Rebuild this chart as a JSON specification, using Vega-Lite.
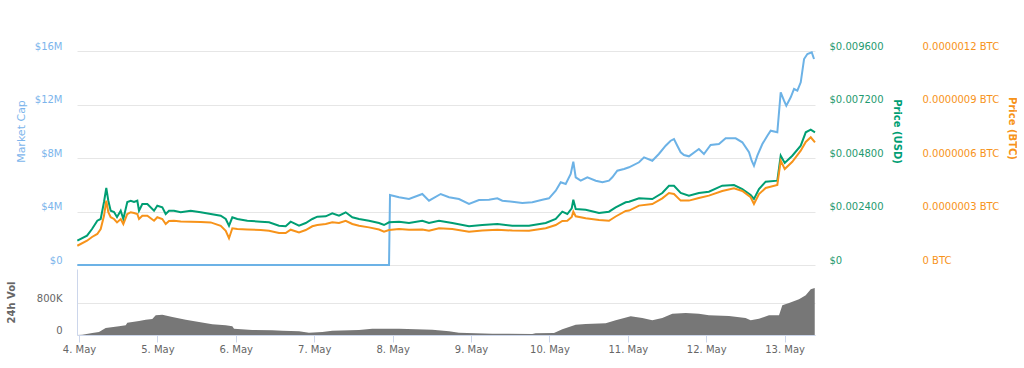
{
  "$schema": "https://vega.github.io/schema/vega-lite/v6.json",
  "background": "white",
  "padding": {"left": 6, "top": 41, "right": 0, "bottom": 5},
  "config": {"view": {"stroke": null}, "font": "DejaVu Sans", "axis": {"labelFont": "DejaVu Sans", "titleFont": "DejaVu Sans"}},
  "spacing": 0,
  "datasets": {
    "price": [
      {"t": "2018-05-03T23:29", "usd": 0.00109, "btc": 1.08e-7},
      {"t": "2018-05-04T02:27", "usd": 0.001314, "btc": 1.36e-7},
      {"t": "2018-05-04T03:59", "usd": 0.001615, "btc": 1.57e-7},
      {"t": "2018-05-04T05:36", "usd": 0.001987, "btc": 1.74e-7},
      {"t": "2018-05-04T06:38", "usd": 0.002064, "btc": 2.02e-7},
      {"t": "2018-05-04T07:39", "usd": 0.002826, "btc": 2.76e-7},
      {"t": "2018-05-04T08:21", "usd": 0.003454, "btc": 3.61e-7},
      {"t": "2018-05-04T08:58", "usd": 0.002884, "btc": 2.96e-7},
      {"t": "2018-05-04T09:42", "usd": 0.002436, "btc": 2.68e-7},
      {"t": "2018-05-04T10:43", "usd": 0.002378, "btc": 2.58e-7},
      {"t": "2018-05-04T11:38", "usd": 0.002153, "btc": 2.39e-7},
      {"t": "2018-05-04T12:46", "usd": 0.002436, "btc": 2.58e-7},
      {"t": "2018-05-04T13:34", "usd": 0.002064, "btc": 2.30e-7},
      {"t": "2018-05-04T14:47", "usd": 0.002826, "btc": 2.86e-7},
      {"t": "2018-05-04T15:50", "usd": 0.002884, "btc": 2.96e-7},
      {"t": "2018-05-04T16:50", "usd": 0.002826, "btc": 2.92e-7},
      {"t": "2018-05-04T17:51", "usd": 0.002884, "btc": 2.86e-7},
      {"t": "2018-05-04T18:22", "usd": 0.002436, "btc": 2.58e-7},
      {"t": "2018-05-04T19:23", "usd": 0.002736, "btc": 2.76e-7},
      {"t": "2018-05-04T20:55", "usd": 0.002736, "btc": 2.76e-7},
      {"t": "2018-05-04T22:58", "usd": 0.002436, "btc": 2.48e-7},
      {"t": "2018-05-04T23:58", "usd": 0.00266, "btc": 2.68e-7},
      {"t": "2018-05-05T01:30", "usd": 0.002588, "btc": 2.58e-7},
      {"t": "2018-05-05T02:32", "usd": 0.002288, "btc": 2.30e-7},
      {"t": "2018-05-05T03:33", "usd": 0.002436, "btc": 2.47e-7},
      {"t": "2018-05-05T05:05", "usd": 0.002436, "btc": 2.48e-7},
      {"t": "2018-05-05T07:08", "usd": 0.002364, "btc": 2.44e-7},
      {"t": "2018-05-05T10:11", "usd": 0.002436, "btc": 2.43e-7},
      {"t": "2018-05-05T13:15", "usd": 0.002364, "btc": 2.41e-7},
      {"t": "2018-05-05T16:19", "usd": 0.002288, "btc": 2.39e-7},
      {"t": "2018-05-05T19:23", "usd": 0.002212, "btc": 2.20e-7},
      {"t": "2018-05-05T20:55", "usd": 0.002064, "btc": 1.92e-7},
      {"t": "2018-05-05T21:55", "usd": 0.001763, "btc": 1.50e-7},
      {"t": "2018-05-05T22:56", "usd": 0.00214, "btc": 2.06e-7},
      {"t": "2018-05-06T00:28", "usd": 0.002064, "btc": 2.02e-7},
      {"t": "2018-05-06T03:31", "usd": 0.001987, "btc": 1.99e-7},
      {"t": "2018-05-06T07:37", "usd": 0.001942, "btc": 1.96e-7},
      {"t": "2018-05-06T10:10", "usd": 0.001916, "btc": 1.92e-7},
      {"t": "2018-05-06T13:13", "usd": 0.001763, "btc": 1.79e-7},
      {"t": "2018-05-06T15:16", "usd": 0.001736, "btc": 1.79e-7},
      {"t": "2018-05-06T16:48", "usd": 0.001942, "btc": 1.98e-7},
      {"t": "2018-05-06T19:21", "usd": 0.001763, "btc": 1.83e-7},
      {"t": "2018-05-06T21:24", "usd": 0.001884, "btc": 1.96e-7},
      {"t": "2018-05-06T23:25", "usd": 0.002064, "btc": 2.17e-7},
      {"t": "2018-05-07T00:57", "usd": 0.002167, "btc": 2.24e-7},
      {"t": "2018-05-07T03:31", "usd": 0.002185, "btc": 2.30e-7},
      {"t": "2018-05-07T05:32", "usd": 0.002319, "btc": 2.39e-7},
      {"t": "2018-05-07T07:35", "usd": 0.002212, "btc": 2.36e-7},
      {"t": "2018-05-07T09:38", "usd": 0.002364, "btc": 2.48e-7},
      {"t": "2018-05-07T11:40", "usd": 0.00214, "btc": 2.30e-7},
      {"t": "2018-05-07T13:43", "usd": 0.002064, "btc": 2.20e-7},
      {"t": "2018-05-07T16:46", "usd": 0.001987, "btc": 2.11e-7},
      {"t": "2018-05-07T19:50", "usd": 0.001884, "btc": 1.99e-7},
      {"t": "2018-05-07T21:22", "usd": 0.001794, "btc": 1.87e-7},
      {"t": "2018-05-07T22:54", "usd": 0.001916, "btc": 1.96e-7},
      {"t": "2018-05-08T01:58", "usd": 0.001942, "btc": 2.02e-7},
      {"t": "2018-05-08T05:01", "usd": 0.001884, "btc": 1.98e-7},
      {"t": "2018-05-08T09:05", "usd": 0.001987, "btc": 1.99e-7},
      {"t": "2018-05-08T11:08", "usd": 0.001884, "btc": 1.92e-7},
      {"t": "2018-05-08T14:12", "usd": 0.001987, "btc": 2.06e-7},
      {"t": "2018-05-08T18:16", "usd": 0.001884, "btc": 2.02e-7},
      {"t": "2018-05-08T23:23", "usd": 0.001736, "btc": 1.87e-7},
      {"t": "2018-05-09T03:27", "usd": 0.001794, "btc": 1.93e-7},
      {"t": "2018-05-09T08:03", "usd": 0.001839, "btc": 1.98e-7},
      {"t": "2018-05-09T12:38", "usd": 0.001763, "btc": 1.93e-7},
      {"t": "2018-05-09T17:45", "usd": 0.001763, "btc": 1.92e-7},
      {"t": "2018-05-09T22:52", "usd": 0.001884, "btc": 2.06e-7},
      {"t": "2018-05-10T01:56", "usd": 0.002064, "btc": 2.24e-7},
      {"t": "2018-05-10T03:57", "usd": 0.002391, "btc": 2.47e-7},
      {"t": "2018-05-10T05:29", "usd": 0.002288, "btc": 2.48e-7},
      {"t": "2018-05-10T06:50", "usd": 0.002544, "btc": 2.69e-7},
      {"t": "2018-05-10T07:19", "usd": 0.002929, "btc": 2.99e-7},
      {"t": "2018-05-10T08:03", "usd": 0.002512, "btc": 2.73e-7},
      {"t": "2018-05-10T11:07", "usd": 0.002481, "btc": 2.62e-7},
      {"t": "2018-05-10T15:11", "usd": 0.002333, "btc": 2.52e-7},
      {"t": "2018-05-10T18:14", "usd": 0.002391, "btc": 2.48e-7},
      {"t": "2018-05-10T20:17", "usd": 0.002588, "btc": 2.72e-7},
      {"t": "2018-05-10T23:21", "usd": 0.002813, "btc": 3.03e-7},
      {"t": "2018-05-11T00:22", "usd": 0.00284, "btc": 3.05e-7},
      {"t": "2018-05-11T03:26", "usd": 0.002992, "btc": 3.33e-7},
      {"t": "2018-05-11T07:30", "usd": 0.002961, "btc": 3.42e-7},
      {"t": "2018-05-11T10:33", "usd": 0.00323, "btc": 3.74e-7},
      {"t": "2018-05-11T12:36", "usd": 0.003557, "btc": 4.04e-7},
      {"t": "2018-05-11T14:08", "usd": 0.003557, "btc": 3.98e-7},
      {"t": "2018-05-11T16:11", "usd": 0.00323, "btc": 3.61e-7},
      {"t": "2018-05-11T18:42", "usd": 0.003109, "btc": 3.61e-7},
      {"t": "2018-05-11T21:45", "usd": 0.00323, "btc": 3.76e-7},
      {"t": "2018-05-12T00:49", "usd": 0.003288, "btc": 3.89e-7},
      {"t": "2018-05-12T04:54", "usd": 0.003557, "btc": 4.15e-7},
      {"t": "2018-05-12T08:30", "usd": 0.003589, "btc": 4.30e-7},
      {"t": "2018-05-12T11:03", "usd": 0.003409, "btc": 4.15e-7},
      {"t": "2018-05-12T13:36", "usd": 0.00314, "btc": 3.80e-7},
      {"t": "2018-05-12T14:37", "usd": 0.002961, "btc": 3.42e-7},
      {"t": "2018-05-12T16:09", "usd": 0.003409, "btc": 3.98e-7},
      {"t": "2018-05-12T18:12", "usd": 0.003737, "btc": 4.32e-7},
      {"t": "2018-05-12T21:46", "usd": 0.003782, "btc": 4.49e-7},
      {"t": "2018-05-12T22:48", "usd": 0.004903, "btc": 5.85e-7},
      {"t": "2018-05-13T00:02", "usd": 0.004576, "btc": 5.38e-7},
      {"t": "2018-05-13T02:21", "usd": 0.004903, "btc": 5.79e-7},
      {"t": "2018-05-13T04:56", "usd": 0.005352, "btc": 6.41e-7},
      {"t": "2018-05-13T06:28", "usd": 0.005953, "btc": 6.90e-7},
      {"t": "2018-05-13T08:00", "usd": 0.00607, "btc": 7.16e-7},
      {"t": "2018-05-13T09:18", "usd": 0.005953, "btc": 6.88e-7}
    ],
    "mcap": [
      {"t": "2018-05-03T23:29", "mcap": 0},
      {"t": "2018-05-07T22:54", "mcap": 0},
      {"t": "2018-05-07T23:12", "mcap": 5234000},
      {"t": "2018-05-08T01:58", "mcap": 5062000},
      {"t": "2018-05-08T05:01", "mcap": 4935000},
      {"t": "2018-05-08T09:05", "mcap": 5308000},
      {"t": "2018-05-08T11:08", "mcap": 4807000},
      {"t": "2018-05-08T14:43", "mcap": 5308000},
      {"t": "2018-05-08T17:16", "mcap": 5062000},
      {"t": "2018-05-08T20:19", "mcap": 4935000},
      {"t": "2018-05-08T23:23", "mcap": 4561000},
      {"t": "2018-05-09T02:26", "mcap": 4860000},
      {"t": "2018-05-09T05:30", "mcap": 4882000},
      {"t": "2018-05-09T08:03", "mcap": 4987000},
      {"t": "2018-05-09T09:35", "mcap": 4807000},
      {"t": "2018-05-09T12:38", "mcap": 4733000},
      {"t": "2018-05-09T15:42", "mcap": 4635000},
      {"t": "2018-05-09T18:46", "mcap": 4688000},
      {"t": "2018-05-09T21:50", "mcap": 4882000},
      {"t": "2018-05-09T23:52", "mcap": 4987000},
      {"t": "2018-05-10T01:56", "mcap": 5555000},
      {"t": "2018-05-10T03:28", "mcap": 6183000},
      {"t": "2018-05-10T04:59", "mcap": 6056000},
      {"t": "2018-05-10T06:31", "mcap": 6804000},
      {"t": "2018-05-10T07:19", "mcap": 7723000},
      {"t": "2018-05-10T08:03", "mcap": 6557000},
      {"t": "2018-05-10T09:35", "mcap": 6303000},
      {"t": "2018-05-10T11:37", "mcap": 6557000},
      {"t": "2018-05-10T14:11", "mcap": 6303000},
      {"t": "2018-05-10T16:13", "mcap": 6183000},
      {"t": "2018-05-10T18:14", "mcap": 6303000},
      {"t": "2018-05-10T19:15", "mcap": 6557000},
      {"t": "2018-05-10T20:47", "mcap": 7050000},
      {"t": "2018-05-10T22:50", "mcap": 7178000},
      {"t": "2018-05-11T00:22", "mcap": 7305000},
      {"t": "2018-05-11T03:26", "mcap": 7679000},
      {"t": "2018-05-11T04:58", "mcap": 8052000},
      {"t": "2018-05-11T07:30", "mcap": 7798000},
      {"t": "2018-05-11T09:30", "mcap": 8299000},
      {"t": "2018-05-11T11:35", "mcap": 8920000},
      {"t": "2018-05-11T13:07", "mcap": 9293000},
      {"t": "2018-05-11T14:08", "mcap": 9421000},
      {"t": "2018-05-11T15:09", "mcap": 8920000},
      {"t": "2018-05-11T16:11", "mcap": 8426000},
      {"t": "2018-05-11T17:12", "mcap": 8224000},
      {"t": "2018-05-11T18:42", "mcap": 8127000},
      {"t": "2018-05-11T21:45", "mcap": 8673000},
      {"t": "2018-05-11T23:18", "mcap": 8299000},
      {"t": "2018-05-12T01:21", "mcap": 8972000},
      {"t": "2018-05-12T03:54", "mcap": 9047000},
      {"t": "2018-05-12T05:57", "mcap": 9473000},
      {"t": "2018-05-12T09:01", "mcap": 9473000},
      {"t": "2018-05-12T11:03", "mcap": 9174000},
      {"t": "2018-05-12T13:06", "mcap": 8426000},
      {"t": "2018-05-12T13:55", "mcap": 7798000},
      {"t": "2018-05-12T14:37", "mcap": 7424000},
      {"t": "2018-05-12T15:39", "mcap": 8172000},
      {"t": "2018-05-12T17:11", "mcap": 9047000},
      {"t": "2018-05-12T18:43", "mcap": 9667000},
      {"t": "2018-05-12T19:44", "mcap": 10041000},
      {"t": "2018-05-12T21:46", "mcap": 9922000},
      {"t": "2018-05-12T22:48", "mcap": 12912000},
      {"t": "2018-05-12T23:49", "mcap": 12284000},
      {"t": "2018-05-13T00:31", "mcap": 11910000},
      {"t": "2018-05-13T01:52", "mcap": 12538000},
      {"t": "2018-05-13T02:53", "mcap": 13159000},
      {"t": "2018-05-13T03:54", "mcap": 13032000},
      {"t": "2018-05-13T04:56", "mcap": 13660000},
      {"t": "2018-05-13T05:57", "mcap": 15402000},
      {"t": "2018-05-13T06:58", "mcap": 15776000},
      {"t": "2018-05-13T08:18", "mcap": 15903000},
      {"t": "2018-05-13T09:00", "mcap": 15402000}
    ],
    "vol": [
      {"t": "2018-05-03T23:30", "vol": 0},
      {"t": "2018-05-04T01:00", "vol": 7500},
      {"t": "2018-05-04T04:04", "vol": 50000},
      {"t": "2018-05-04T06:07", "vol": 75000},
      {"t": "2018-05-04T08:10", "vol": 175000},
      {"t": "2018-05-04T12:15", "vol": 217000},
      {"t": "2018-05-04T14:18", "vol": 242000},
      {"t": "2018-05-04T14:47", "vol": 307000},
      {"t": "2018-05-04T18:22", "vol": 350000},
      {"t": "2018-05-04T20:25", "vol": 382000},
      {"t": "2018-05-04T22:26", "vol": 400000},
      {"t": "2018-05-04T23:29", "vol": 492000},
      {"t": "2018-05-05T01:30", "vol": 507000},
      {"t": "2018-05-05T04:34", "vol": 450000},
      {"t": "2018-05-05T08:40", "vol": 382000},
      {"t": "2018-05-05T12:44", "vol": 325000},
      {"t": "2018-05-05T16:48", "vol": 267000},
      {"t": "2018-05-05T20:54", "vol": 242000},
      {"t": "2018-05-05T22:56", "vol": 217000},
      {"t": "2018-05-05T23:27", "vol": 157000},
      {"t": "2018-05-06T05:02", "vol": 125000},
      {"t": "2018-05-06T11:09", "vol": 117000},
      {"t": "2018-05-06T14:14", "vol": 107000},
      {"t": "2018-05-06T19:21", "vol": 92000},
      {"t": "2018-05-06T22:24", "vol": 57000},
      {"t": "2018-05-07T02:29", "vol": 75000},
      {"t": "2018-05-07T05:32", "vol": 107000},
      {"t": "2018-05-07T13:43", "vol": 125000},
      {"t": "2018-05-07T17:47", "vol": 157000},
      {"t": "2018-05-08T01:58", "vol": 157000},
      {"t": "2018-05-08T12:10", "vol": 132000},
      {"t": "2018-05-08T17:16", "vol": 92000},
      {"t": "2018-05-08T20:19", "vol": 57000},
      {"t": "2018-05-09T06:31", "vol": 32000},
      {"t": "2018-05-09T18:46", "vol": 25000},
      {"t": "2018-05-09T19:47", "vol": 42000},
      {"t": "2018-05-10T01:24", "vol": 50000},
      {"t": "2018-05-10T03:57", "vol": 142000},
      {"t": "2018-05-10T08:03", "vol": 257000},
      {"t": "2018-05-10T11:07", "vol": 275000},
      {"t": "2018-05-10T17:14", "vol": 292000},
      {"t": "2018-05-10T20:17", "vol": 367000},
      {"t": "2018-05-11T00:53", "vol": 467000},
      {"t": "2018-05-11T04:26", "vol": 425000},
      {"t": "2018-05-11T07:30", "vol": 367000},
      {"t": "2018-05-11T10:33", "vol": 425000},
      {"t": "2018-05-11T13:37", "vol": 532000},
      {"t": "2018-05-11T17:42", "vol": 550000},
      {"t": "2018-05-11T21:45", "vol": 532000},
      {"t": "2018-05-12T00:49", "vol": 492000},
      {"t": "2018-05-12T06:58", "vol": 475000},
      {"t": "2018-05-12T12:02", "vol": 425000},
      {"t": "2018-05-12T13:36", "vol": 367000},
      {"t": "2018-05-12T16:09", "vol": 407000},
      {"t": "2018-05-12T19:13", "vol": 492000},
      {"t": "2018-05-12T22:17", "vol": 492000},
      {"t": "2018-05-12T23:18", "vol": 742000},
      {"t": "2018-05-13T01:21", "vol": 800000},
      {"t": "2018-05-13T04:24", "vol": 892000},
      {"t": "2018-05-13T06:28", "vol": 992000},
      {"t": "2018-05-13T08:00", "vol": 1142000},
      {"t": "2018-05-13T09:13", "vol": 1175000}
    ]
  },
  "vconcat": [
    {
      "width": 738,
      "height": 214,
      "layer": [
        {
          "data": {"name": "mcap"},
          "mark": {"type": "line", "color": "#6cb2e6", "strokeWidth": 2},
          "encoding": {
            "x": {"field": "t", "type": "temporal", "scale": {"domain": [{"year": 2018, "month": 5, "date": 3, "hours": 23, "minutes": 23}, {"year": 2018, "month": 5, "date": 13, "hours": 9, "minutes": 18}]}, "axis": null},
            "y": {"field": "mcap", "type": "quantitative", "scale": {"domain": [0, 16000000]},
              "axis": {"orient": "left", "values": [0, 4000000, 8000000, 12000000, 16000000],
                "labelExpr": "datum.value == 0 ? '$0' : '$' + (datum.value / 1000000) + 'M'",
                "labelColor": "#7cb5ec", "labelFontSize": 10, "labelPadding": 15, "labelOffset": -5,
                "ticks": false, "tickSize": 0, "domain": false, "grid": true, "gridColor": "#e6e6e6",
                "title": "Market Cap", "titleColor": "#7cb5ec", "titleFontSize": 11, "titleFontWeight": "normal", "titlePadding": 8, "titleY": 80}}
          }
        },
        {
          "data": {"name": "price"},
          "mark": {"type": "line", "color": "#009e73", "strokeWidth": 2},
          "encoding": {
            "x": {"field": "t", "type": "temporal"},
            "y": {"field": "usd", "type": "quantitative", "scale": {"domain": [0, 0.0096]},
              "axis": {"orient": "right", "values": [0, 0.0024, 0.0048, 0.0072, 0.0096],
                "labelExpr": "datum.value == 0 ? '$0' : '$' + format(datum.value, '.6f')",
                "labelColor": "#1f9a70", "labelFontSize": 10, "labelPadding": 14, "labelOffset": -5,
                "ticks": false, "tickSize": 0, "domain": false, "grid": false,
                "title": "Price (USD)", "titleColor": "#009e73", "titleFontSize": 10, "titleFontWeight": "bold", "titlePadding": 8, "titleY": 80}}
          }
        },
        {
          "data": {"name": "price"},
          "mark": {"type": "line", "color": "#f7931a", "strokeWidth": 2},
          "encoding": {
            "x": {"field": "t", "type": "temporal"},
            "y": {"field": "btc", "type": "quantitative", "scale": {"domain": [0, 0.0000012]},
              "axis": {"orient": "right", "offset": 93, "values": [0, 0.0000003, 0.0000006, 0.0000009, 0.0000012],
                "labelExpr": "datum.value == 0 ? '0 BTC' : format(datum.value, '.7f') + ' BTC'",
                "labelColor": "#f7931a", "labelFontSize": 10, "labelPadding": 14, "labelOffset": -5,
                "ticks": false, "tickSize": 0, "domain": false, "grid": false,
                "title": "Price (BTC)", "titleColor": "#f7931a", "titleFontSize": 10, "titleFontWeight": "bold", "titlePadding": 8, "titleY": 77}}
          }
        }
      ],
      "resolve": {"scale": {"y": "independent"}}
    },
    {
      "width": 738,
      "height": 66,
      "data": {"name": "vol"},
      "mark": {"type": "area", "color": "#777777", "opacity": 1},
      "encoding": {
        "x": {"field": "t", "type": "temporal",
          "scale": {"domain": [{"year": 2018, "month": 5, "date": 3, "hours": 23, "minutes": 23}, {"year": 2018, "month": 5, "date": 13, "hours": 9, "minutes": 18}]},
          "axis": {"format": "%-d. %b", "tickCount": {"interval": "day", "step": 1}, "labelColor": "#666666", "labelFontSize": 10,
            "tickColor": "#ccd6eb", "tickSize": 7, "domainColor": "#ccd6eb", "labelPadding": 2, "grid": false, "labelFlush": false, "title": null}},
        "y": {"field": "vol", "type": "quantitative", "scale": {"domain": [0, 1650000]},
          "axis": {"values": [0, 800000],
            "labelExpr": "datum.value == 0 ? '0' : (datum.value / 1000) + 'K'",
            "labelColor": "#666666", "labelFontSize": 10, "labelPadding": 15, "labelOffset": -5,
            "ticks": false, "tickSize": 0, "domain": true, "domainColor": "#ccd6eb", "grid": true, "gridColor": "#e6e6e6",
            "title": "24h Vol", "titleColor": "#666666", "titleFontSize": 10, "titleFontWeight": "bold", "titlePadding": 20}}
      }
    }
  ]
}
